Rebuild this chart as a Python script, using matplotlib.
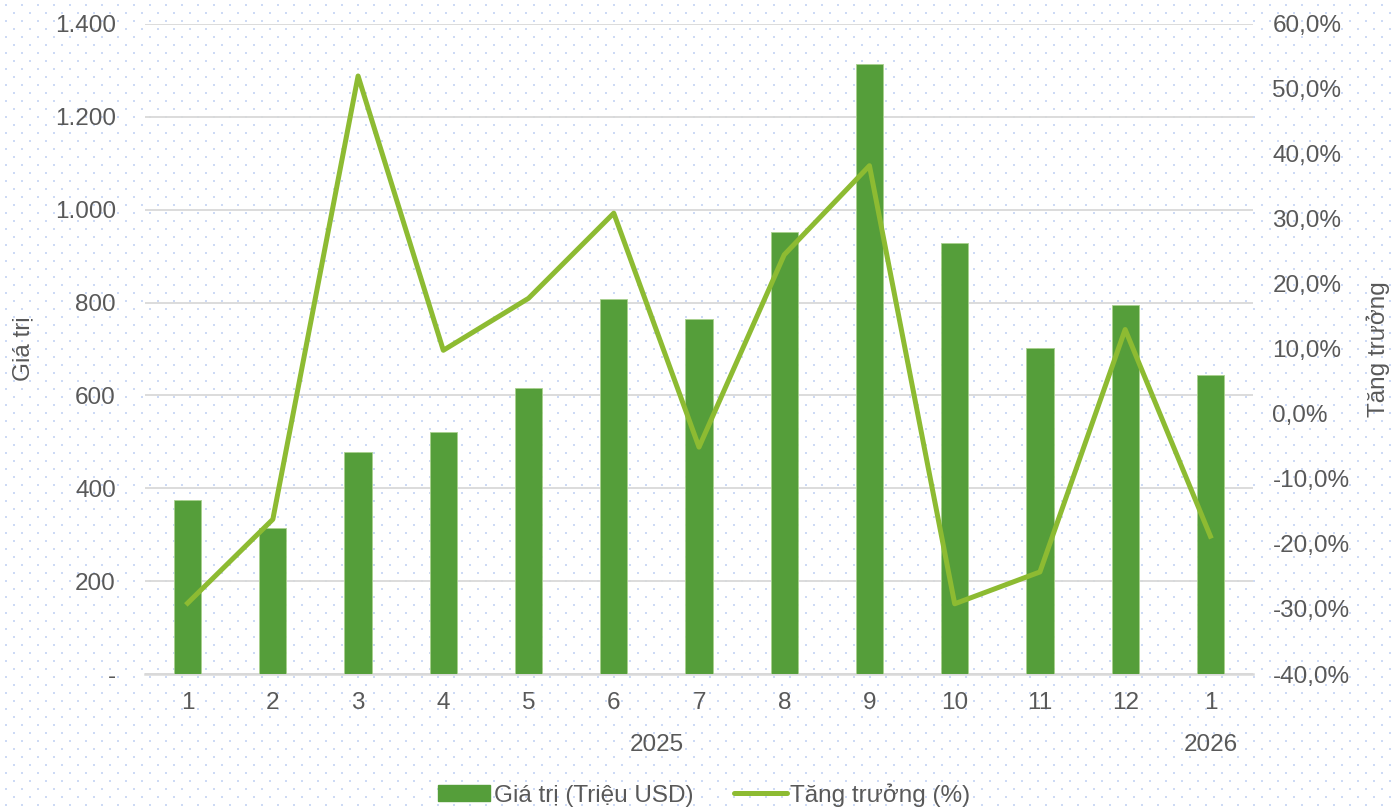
import numpy as np
import matplotlib
matplotlib.use("Agg")
import matplotlib.pyplot as plt
from matplotlib.ticker import FuncFormatter, FixedLocator
from matplotlib.patches import Patch
from matplotlib.lines import Line2D

plt.rcParams['font.family'] = ['Liberation Sans', 'DejaVu Sans']

months = ["1", "2", "3", "4", "5", "6", "7", "8", "9", "10", "11", "12", "1"]
values = [375, 314, 478, 522, 616, 807, 765, 952, 1313, 928, 702, 795, 644]
growth = [-29.1, -16.2, 52.0, 9.8, 17.8, 30.9, -5.1, 24.5, 38.2, -29.2, -24.3, 13.0, -18.8]
years = ["2025", "2026"]
bar_label = "Giá trị (Triệu USD)"
line_label = "Tăng trưởng (%)"

BAR_C = "#559E3A"
LINE_C = "#8DBB32"
TXT = "#595959"
GRID = "#D9D9D9"
FS = 17.5

W, H = 1392, 808
fig = plt.figure(figsize=(W / 100, H / 100), dpi=100)
fig.patch.set_facecolor("white")

# dotted background
bg = np.ones((H, W, 3))
dot = np.array([205, 218, 245]) / 255.0
for r, yy in enumerate(range(4, H, 8)):
    off = 5 if r % 2 == 0 else 13
    for xx in range(off, W, 16):
        bg[yy:yy + 2, xx:xx + 2] = dot
fig.figimage(bg, xo=0, yo=0, origin="upper", zorder=-10)

ax = fig.add_axes([145 / W, 1 - 674 / H, (1253 - 145) / W, (674 - 24) / H])
ax.patch.set_alpha(0)
x = np.arange(len(months))
ax.bar(x, values, width=0.32, color=BAR_C, edgecolor="#A9D18E", linewidth=0.6, zorder=3)
ax.set_xlim(-0.5, len(months) - 0.5)
ax.set_ylim(0, 1400)
ax.yaxis.set_major_locator(FixedLocator(np.arange(0, 1401, 200)))
ax.yaxis.set_major_formatter(FuncFormatter(lambda v, p: "-" if v == 0 else f"{int(v):,}".replace(",", ".")))
ax.grid(axis="y", color=GRID, linewidth=1.3, zorder=0)
for s in ["top", "right", "left"]:
    ax.spines[s].set_visible(False)
ax.spines["bottom"].set_color(GRID)
ax.spines["bottom"].set_linewidth(1.8)
ax.set_xticks(x)
ax.set_xticklabels(months)
ax.tick_params(axis="both", length=0, labelsize=FS, colors=TXT)
ax.tick_params(axis="x", pad=13)
ax.tick_params(axis="y", pad=21)

fig.text(23 / W, 1 - 349 / H, "Giá trị", rotation=90, ha="center", va="center", fontsize=FS, color=TXT)
fig.text(1378 / W, 1 - 349 / H, "Tăng trưởng", rotation=90, ha="center", va="center", fontsize=FS, color=TXT)

# year labels
yoff = -0.109 * 1400
ax.text((0 + 11) / 2, yoff, years[0], ha="center", va="center", fontsize=FS, color=TXT, clip_on=False)
ax.text(12, yoff, years[1], ha="center", va="center", fontsize=FS, color=TXT, clip_on=False)

ax2 = ax.twinx()
ax2.patch.set_alpha(0)
ax2.plot(x, growth, color=LINE_C, linewidth=3.6, zorder=4)
ax2.set_ylim(-40, 60)
ax2.yaxis.set_major_locator(FixedLocator(np.arange(-40, 61, 10)))
ax2.yaxis.set_major_formatter(FuncFormatter(lambda v, p: f"{v:.1f}%".replace(".", ",")))
for s in ["top", "right", "left", "bottom"]:
    ax2.spines[s].set_visible(False)
ax2.tick_params(axis="y", length=0, labelsize=FS, colors=TXT, pad=14)

handles = [Patch(facecolor=BAR_C, edgecolor=BAR_C),
           Line2D([0], [0], color=LINE_C, linewidth=3.6, solid_capstyle="round")]
fig.legend(handles, [bar_label, line_label], loc="center", bbox_to_anchor=(704 / W, 1 - 795 / H),
           ncol=2, frameon=False, fontsize=FS, handlelength=2.15, handleheight=0.65,
           handletextpad=0.15, columnspacing=1.7, labelcolor=TXT, borderpad=0.2)

fig.savefig("out.png", dpi=100)
